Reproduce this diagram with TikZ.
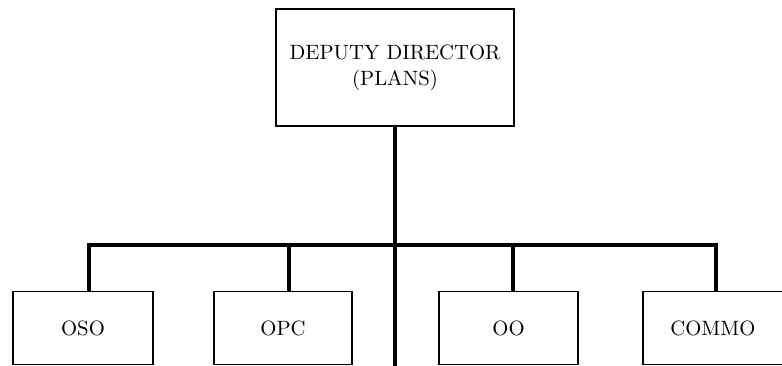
\documentclass[tikz,border=0pt]{standalone}
\usepackage{fontspec}
\setmainfont{lmroman10-regular}[Extension=.otf]
\begin{document}
\begin{tikzpicture}[x=1pt,y=-1pt,
    office/.style={draw,line width=1.1pt,inner sep=0pt,align=center,
      font=\fontsize{20.7}{26}\selectfont},
    feed/.style={line width=4pt,line join=miter}]
  \useasboundingbox (0,0) rectangle (782,366);
  \node[office,minimum width=238pt,minimum height=117pt] (dd) at (395,67.5)
    {DEPUTY DIRECTOR\\(PLANS)};
  \node[office,minimum width=140pt,minimum height=73pt] (oso) at (83,328) {OSO};
  \node[office,minimum width=138pt,minimum height=73pt] (opc) at (283,328) {OPC};
  \node[office,minimum width=139pt,minimum height=73pt] (oo) at (508.5,328) {OO};
  \node[office,minimum width=140pt,minimum height=73pt] (commo) at (713,328) {COMMO};
  \coordinate (bus) at (395,245);
  \coordinate (end) at (395,366);
  \begin{scope}[feed]
    \draw (dd.south) -- (end);
    \draw ([xshift=6pt]oso.north) |- (bus) -| ([xshift=3pt]commo.north);
    \draw ([xshift=6pt]opc.north) -- ([xshift=6pt]opc.north |- bus);
    \draw ([xshift=4.5pt]oo.north) -- ([xshift=4.5pt]oo.north |- bus);
  \end{scope}
\end{tikzpicture}
\end{document}
